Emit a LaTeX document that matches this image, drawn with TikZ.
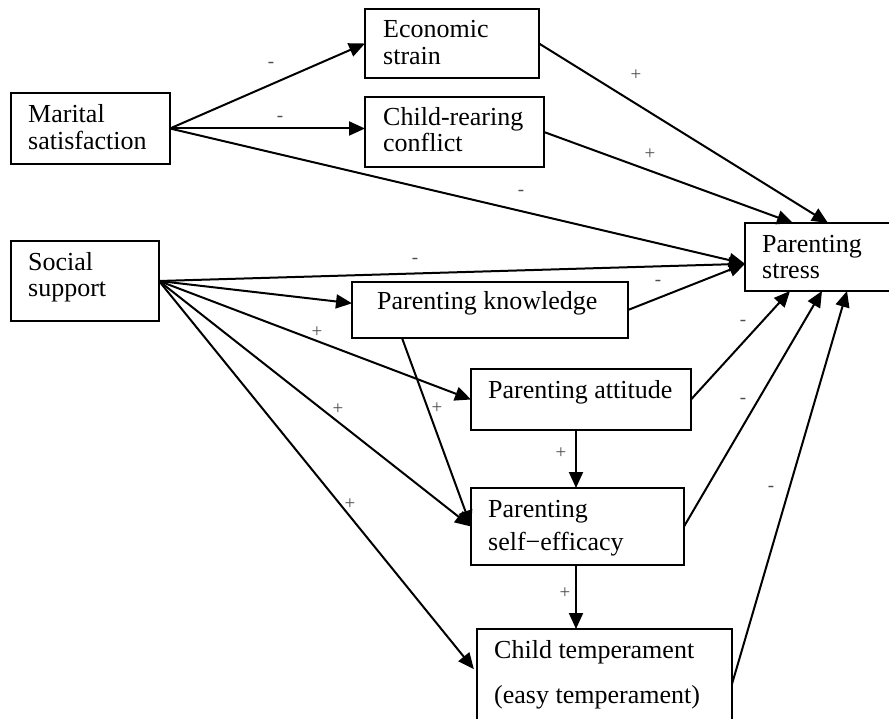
\documentclass[tikz,border=0pt]{standalone}
\usepackage{fontspec}
\setmainfont{Liberation Serif}
\usetikzlibrary{arrows.meta,calc}
\begin{document}
\begin{tikzpicture}[x=1pt,y=-1pt,
  box/.style={draw, line width=1.5pt, rectangle, inner sep=0pt, outer sep=0pt, anchor=north west},
  txt/.style={anchor=base west, inner sep=0pt, font=\fontsize{26}{30}\selectfont},
  sg/.style={inner sep=0pt, font=\fontsize{19}{21}\selectfont, text=black!70},
  arr/.style={line width=2pt, -{Triangle[length=16pt,width=14pt]}}
]
\useasboundingbox (0,0) rectangle (889,719);
\clip (0,0) rectangle (889,719);

% boxes
\node[box, minimum width=159pt, minimum height=71pt]  (mar)    at (11,93)   {};
\node[box, minimum width=174pt, minimum height=69pt]  (econ)   at (365,9)   {};
\node[box, minimum width=179pt, minimum height=70pt]  (cr)     at (365,97)  {};
\node[box, minimum width=148pt, minimum height=80pt]  (soc)    at (11,241)  {};
\node[box, minimum width=170pt, minimum height=68pt]  (stress) at (745,223) {};
\node[box, minimum width=276pt, minimum height=56pt]  (know)   at (352,282) {};
\node[box, minimum width=220pt, minimum height=61pt]  (att)    at (471,369) {};
\node[box, minimum width=213pt, minimum height=77pt]  (se)     at (471,488) {};
\node[box, minimum width=255pt, minimum height=110pt] (ct)     at (477,629) {};

% texts
\node[txt] (mar1) at (28,123) {Marital};
\node[txt] (mar2) at (28,150) {satisfaction};
\node[txt] (econ1) at (383,38) {Economic};
\node[txt] (econ2) at (383,65) {strain};
\node[txt] (cr1) at (383,126) {Child-rearing};
\node[txt] (cr2) at (383,152) {conflict};
\node[txt] (soc1) at (28,271) {Social};
\node[txt] (soc2) at (28,297) {support};
\node[txt] (st1) at (762,253) {Parenting};
\node[txt] (st2) at (762,279) {stress};
\node[txt] (kn1) at (377,310) {Parenting knowledge};
\node[txt] (at1) at (488,398) {Parenting attitude};
\node[txt] (se1) at (488,517) {Parenting};
\node[txt] (se2) at (488,550) {self−efficacy};
\node[txt] (ct1) at (494,658) {Child temperament};
\node[txt] (ct2) at (494,703) {(easy temperament)};

% helper coordinates
\coordinate (sIn) at ($(stress.north west)!0.6!(stress.south west)$);

% connectors
\draw[arr] (mar.east) -- (econ.west);
\draw[arr] (mar.east) -- (mar.east -| cr.west);
\draw[arr] (mar.east) -- (sIn);
\draw[arr] (econ.east) -- ($(stress.north west)+(83,0)$);
\draw[arr] (cr.east) -- ($(stress.north west)+(48,0)$);
\draw[arr] (soc.east) -- (sIn);
\draw[arr] (soc.east) -- ($(know.north west)!0.38!(know.south west)$);
\draw[arr] (know.east) -- (sIn);
\draw[arr] (soc.east) -- (att.west);
\draw[arr] (soc.east) -- (se.west);
\draw[arr, shorten >=5pt] (soc.east) -- ($(ct.north west)!0.4!(ct.south west)$);
\draw[arr] ($(know.south west)+(50,0)$) -- (se.west);
\draw[arr] ($(att.south west)+(105,0)$) -- ($(se.north west)+(105,0)$);
\draw[arr] ($(se.south west)+(105,0)$) -- ($(ct.north west)+(99,0)$);
\draw[arr] (att.east) -- ($(stress.south west)+(45,0)$);
\draw[arr] (se.east) -- ($(stress.south west)+(77,0)$);
\draw[arr] (ct.east) -- ($(stress.south west)+(102,0)$);

% signs
\node[sg] (l1) at (271,65) {-};
\node[sg] (l2) at (280,119) {-};
\node[sg] (l3) at (521,193) {-};
\node[sg] (l4) at (636,75) {+};
\node[sg] (l5) at (650,154) {+};
\node[sg] (l6) at (415,261) {-};
\node[sg] (l7) at (658,283) {-};
\node[sg] (l8) at (317,332) {+};
\node[sg] (l9) at (338,409) {+};
\node[sg] (l10) at (437,408) {+};
\node[sg] (l11) at (561,453) {+};
\node[sg] (l12) at (565,593) {+};
\node[sg] (l13) at (743,323) {-};
\node[sg] (l14) at (743,401) {-};
\node[sg] (l15) at (771,489) {-};
\node[sg] (l16) at (350,504) {+};
\end{tikzpicture}
\end{document}
